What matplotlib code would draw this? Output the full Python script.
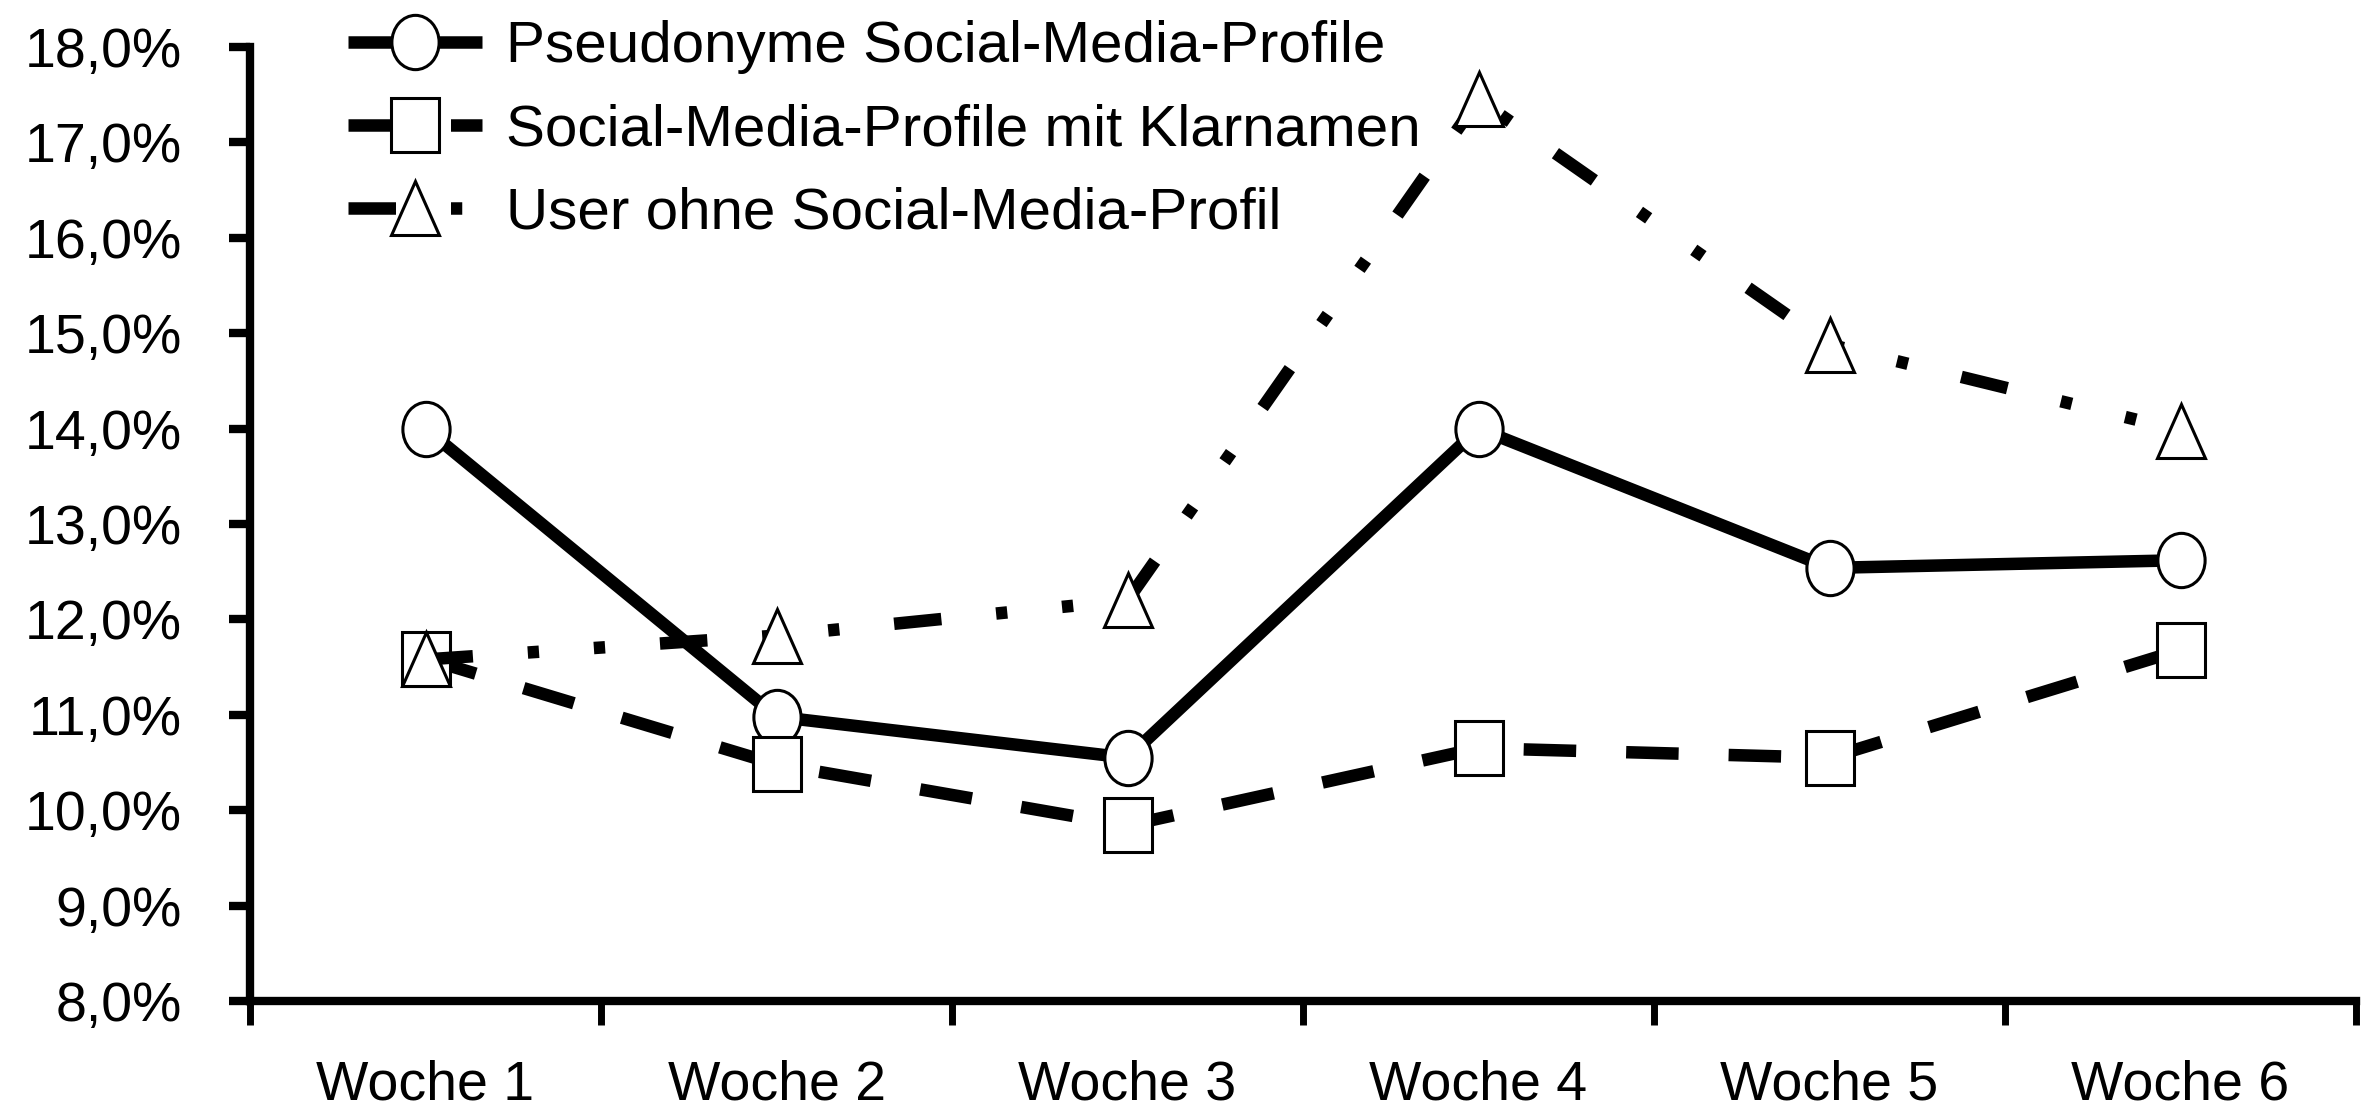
import matplotlib
matplotlib.use('Agg')
import matplotlib.pyplot as plt
from matplotlib.markers import MarkerStyle
from matplotlib.transforms import Affine2D

plt.rcParams['font.family'] = ['Liberation Sans', 'DejaVu Sans']

# data
wochen = ['Woche 1', 'Woche 2', 'Woche 3', 'Woche 4', 'Woche 5', 'Woche 6']
pseudonym = [14.0, 10.98, 10.55, 14.0, 12.54, 12.62]
klarnamen = [11.59, 10.48, 9.84, 10.65, 10.55, 11.68]
ohne_profil = [11.58, 11.83, 12.2, 17.45, 14.88, 13.98]
labels = ['Pseudonyme Social-Media-Profile',
          'Social-Media-Profile mit Klarnamen',
          'User ohne Social-Media-Profil']
y_ticks = [8, 9, 10, 11, 12, 13, 14, 15, 16, 17, 18]
y_ticklabels = ['8,0%', '9,0%', '10,0%', '11,0%', '12,0%', '13,0%',
                '14,0%', '15,0%', '16,0%', '17,0%', '18,0%']

fig = plt.figure(figsize=(23.62, 11.11), dpi=100)
ax = fig.add_axes([250 / 2362, 1 - 1001 / 1111, 2106 / 2362, (1001 - 47) / 1111])

x = list(range(len(wochen)))
stretch = Affine2D().scale(1.0, 1.15)
lw = 9
ms = 34
common = dict(color='black', lw=lw, markerfacecolor='white',
              markeredgecolor='black', markeredgewidth=2.2, ms=ms,
              solid_capstyle='butt', dash_capstyle='butt')

ax.plot(x, pseudonym, marker=MarkerStyle('o', transform=stretch),
        label=labels[0], **common)
ax.plot(x, klarnamen, marker=MarkerStyle('s', transform=stretch),
        dashes=(4.2, 4.0), label=labels[1], **common)
ax.plot(x, ohne_profil, marker=MarkerStyle('^', transform=stretch),
        dashes=(3.8, 4.4, 0.9, 4.4, 0.9, 4.4), label=labels[2], **common)

ax.set_xlim(-0.5, 5.5)
ax.set_ylim(8, 18)

for s in ['top', 'right']:
    ax.spines[s].set_visible(False)
for s in ['left', 'bottom']:
    ax.spines[s].set_linewidth(6)
    ax.spines[s].set_capstyle('projecting')

ax.set_yticks(y_ticks)
ax.set_yticklabels(y_ticklabels)
ax.tick_params(axis='y', length=15, width=6, labelsize=40, pad=34)

ax.set_xticks(x)
ax.set_xticklabels(wochen)
ax.set_xticks([i - 0.5 for i in range(len(wochen) + 1)], minor=True)
ax.tick_params(axis='x', which='major', length=0, labelsize=40, pad=42)
ax.tick_params(axis='x', which='minor', length=17, width=5)

ax.legend(loc='upper left', bbox_to_anchor=(348 / 2362, 0.982),
          bbox_transform=fig.transFigure, frameon=False,
          prop={'family': ['Liberation Sans Narrow', 'Liberation Sans'], 'size': 42},
          handlelength=2.3, handletextpad=0.4, labelspacing=0.5,
          borderpad=0, borderaxespad=0)

fig.savefig('out.png', dpi=100, facecolor='white')
